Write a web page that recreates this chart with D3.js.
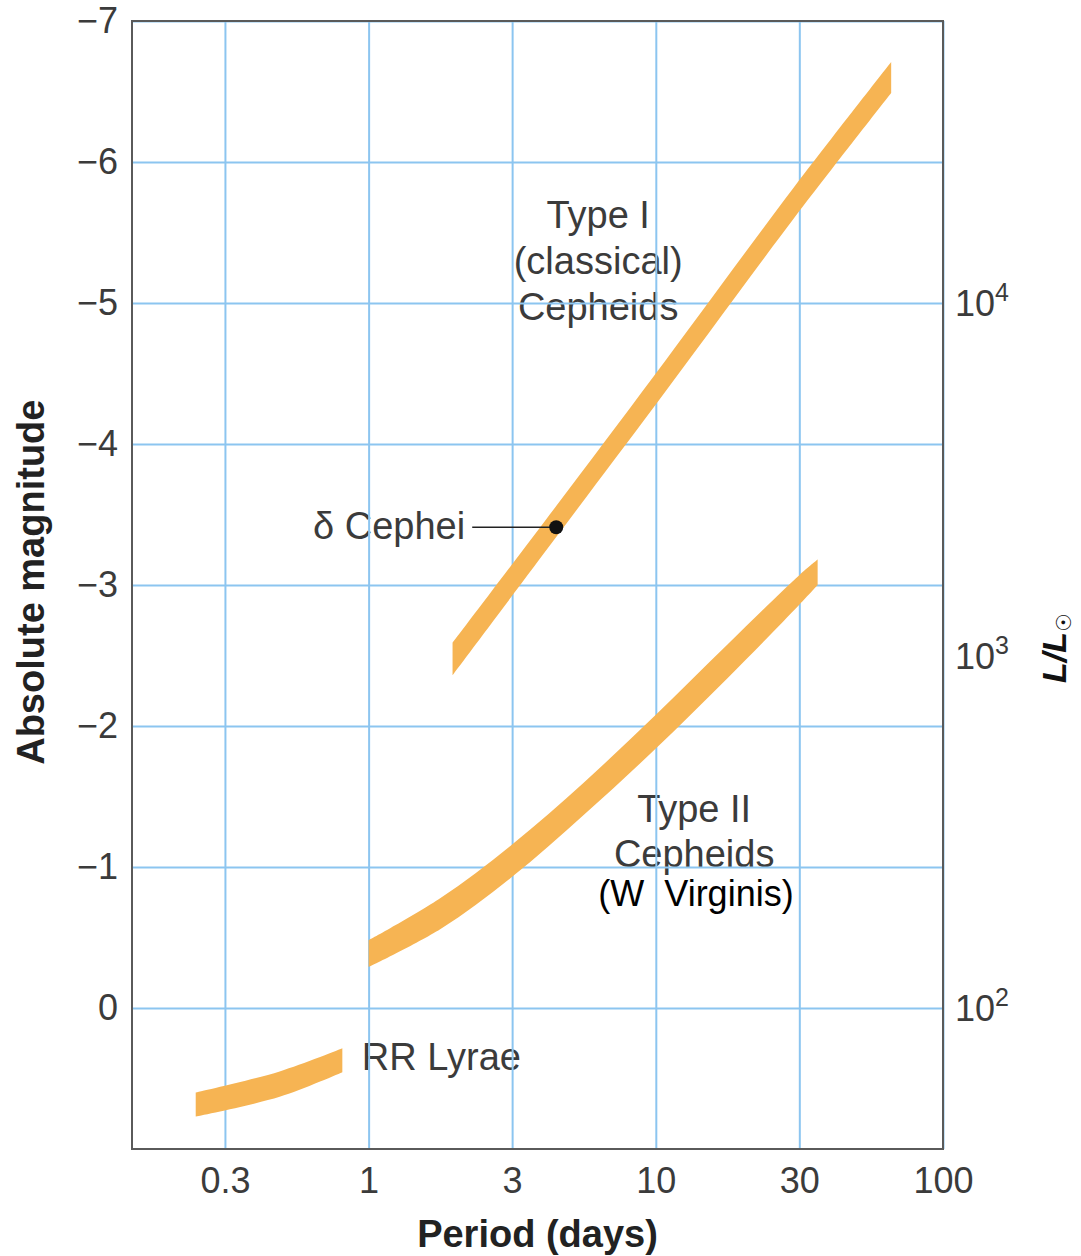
<!DOCTYPE html>
<html>
<head>
<meta charset="utf-8">
<script src="https://cdn.jsdelivr.net/npm/d3@7"></script>
<style>
  html, body { margin: 0; padding: 0; background: #fff; }
  svg { display: block; }
  .tick text { font-family: "Liberation Sans", Arial, sans-serif; }
</style>
</head>
<body>
<svg id="chart" width="1081" height="1256"></svg>
<script>
// Period–luminosity relations for pulsating variable stars

// Axis ticks (half-decade grid on the period axis)
const periodTicks = [0.316, 1, 3.16, 10, 31.6, 100];
const periodLabels = ["0.3", "1", "3", "10", "30", "100"];
const magTicks = [-7, -6, -5, -4, -3, -2, -1, 0];
const lumTicks = [100, 1000, 10000];
const lumExponents = ["2", "3", "4"];

// Type I (classical) Cepheids: period (days), bright edge and faint edge (abs. mag)
const type1Period = [1.96, 4.5, 10, 30, 66];
const type1Bright = [-2.59, -3.56, -4.50, -5.81, -6.71];
const type1Faint  = [-2.36, -3.34, -4.28, -5.59, -6.49];

// Type II Cepheids (W Virginis)
const type2Period = [1.0, 1.78, 3.16, 5.62, 10, 17.8, 31.6, 36.6];
const type2Bright = [-0.48, -0.78, -1.16, -1.60, -2.08, -2.58, -3.07, -3.18];
const type2Faint  = [-0.29, -0.56, -0.93, -1.37, -1.84, -2.34, -2.86, -3.00];

// RR Lyrae stars
const rrPeriod = [0.25, 0.49, 0.81];
const rrBright = [0.60, 0.45, 0.286];
const rrFaint  = [0.77, 0.63, 0.456];

// δ Cephei itself: [period, absolute magnitude]
const deltaCephei = [4.5, -3.41];

const W = 1081, H = 1256;
const plotL = 132, plotR = 943, plotT = 21, plotB = 1149;
const FONT = '"Liberation Sans", Arial, Helvetica, sans-serif';
const BAND = "#f6b453";
const GRID = "#8cc5f0";
const TEXT = "#3b3b3b";

const svg = d3.select("#chart");
svg.append("rect").attr("width", W).attr("height", H).attr("fill", "#fff");

const x = d3.scaleLog().domain([0.15, 100]).range([plotL, plotR]);
const y = d3.scaleLinear().domain([-7, 1]).range([plotT, plotB]);
const yLum = d3.scaleLog().domain([100, 10000]).range([y(0), y(-5)]);

// Annotation labels (drawn beneath the grid)
const notes = svg.append("g").attr("font-family", FONT).attr("fill", TEXT).attr("font-size", 38);

const type1Label = notes.append("text").attr("text-anchor", "middle")
  .attr("x", x(6.3)).attr("y", y(-5.53));
["Type I", "(classical)", "Cepheids"].forEach((t, i) =>
  type1Label.append("tspan").attr("x", x(6.3)).attr("dy", i ? 46 : 0).text(t));

const type2Label = notes.append("text").attr("text-anchor", "middle")
  .attr("x", x(13.6)).attr("y", y(-1.32));
["Type II", "Cepheids"].forEach((t, i) =>
  type2Label.append("tspan").attr("x", x(13.6)).attr("dy", i ? 45 : 0).text(t));

notes.append("text").attr("text-anchor", "middle")
  .attr("x", x(13.8)).attr("y", y(-0.72))
  .attr("fill", "#000").attr("font-size", 36)
  .style("white-space", "pre")
  .text("(W  Virginis)");

notes.append("text").attr("text-anchor", "end")
  .attr("x", x(deltaCephei[0]) - 91).attr("y", y(deltaCephei[1]) + 12)
  .text("δ Cephei");

notes.append("text").attr("x", x(0.82) + 18).attr("y", y(0.44))
  .text("RR Lyrae");

// Grid + tick labels
const xAxis = svg.append("g").attr("transform", `translate(0,${plotB})`)
  .call(d3.axisBottom(x).tickValues(periodTicks)
    .tickSize(-(plotB - plotT)).tickSizeOuter(0).tickPadding(18)
    .tickFormat((d, i) => periodLabels[i]));
const yAxis = svg.append("g").attr("transform", `translate(${plotL},0)`)
  .call(d3.axisLeft(y).tickValues(magTicks)
    .tickSize(-(plotR - plotL)).tickSizeOuter(0).tickPadding(14)
    .tickFormat(d => d3.format("d")(d).replace("-", "\u2212")));

[xAxis, yAxis].forEach(g => {
  g.select(".domain").remove();
  g.selectAll(".tick line").attr("stroke", GRID).attr("stroke-width", 2);
  g.selectAll(".tick text").attr("font-size", 36).attr("fill", TEXT);
});

// Bands
const area = d3.area()
  .x(d => x(d[0]))
  .y0(d => y(d[2]))
  .y1(d => y(d[1]))
  .curve(d3.curveCatmullRom.alpha(0.5));

const bands = [
  d3.zip(type1Period, type1Bright, type1Faint),
  d3.zip(type2Period, type2Bright, type2Faint),
  d3.zip(rrPeriod, rrBright, rrFaint)
];
svg.append("g").selectAll("path").data(bands).join("path")
  .attr("d", area).attr("fill", BAND);

// Plot frame
svg.append("rect")
  .attr("x", plotL).attr("y", plotT)
  .attr("width", plotR - plotL).attr("height", plotB - plotT)
  .attr("fill", "none").attr("stroke", "#5a5a5a").attr("stroke-width", 2);

// δ Cephei marker and leader line
svg.append("line")
  .attr("x1", x(deltaCephei[0]) - 84).attr("x2", x(deltaCephei[0]))
  .attr("y1", y(deltaCephei[1])).attr("y2", y(deltaCephei[1]))
  .attr("stroke", "#222").attr("stroke-width", 1.6);
svg.append("circle")
  .attr("cx", x(deltaCephei[0])).attr("cy", y(deltaCephei[1]))
  .attr("r", 7).attr("fill", "#111");

// Luminosity labels on the right
const lum = svg.append("g").attr("font-family", FONT).attr("fill", TEXT);
lumTicks.forEach((L, i) => {
  const t = lum.append("text").attr("x", plotR + 12).attr("y", yLum(L) + 13).attr("font-size", 36);
  t.append("tspan").text("10");
  t.append("tspan").attr("font-size", 25).attr("dy", -15).text(lumExponents[i]);
});

// Axis titles
svg.append("text")
  .attr("transform", `translate(44,${y(-3.02)}) rotate(-90)`)
  .attr("text-anchor", "middle")
  .attr("font-family", FONT).attr("font-weight", "bold").attr("font-size", 38)
  .attr("fill", "#222")
  .text("Absolute magnitude");

svg.append("text")
  .attr("x", (plotL + plotR) / 2).attr("y", 1247)
  .attr("text-anchor", "middle")
  .attr("font-family", FONT).attr("font-weight", "bold").attr("font-size", 38)
  .attr("fill", "#222")
  .text("Period (days)");

const lumTitle = svg.append("text")
  .attr("transform", `translate(1066,683) rotate(-90)`)
  .attr("font-family", FONT).attr("font-weight", "bold").attr("font-style", "italic")
  .attr("font-size", 34).attr("fill", "#111");
lumTitle.append("tspan").text("L/L");
lumTitle.append("tspan").attr("font-family", '"DejaVu Sans", sans-serif')
  .attr("font-weight", "normal").attr("font-style", "normal")
  .attr("font-size", 21).attr("dy", 5).text("\u2609");
</script>
</body>
</html>
